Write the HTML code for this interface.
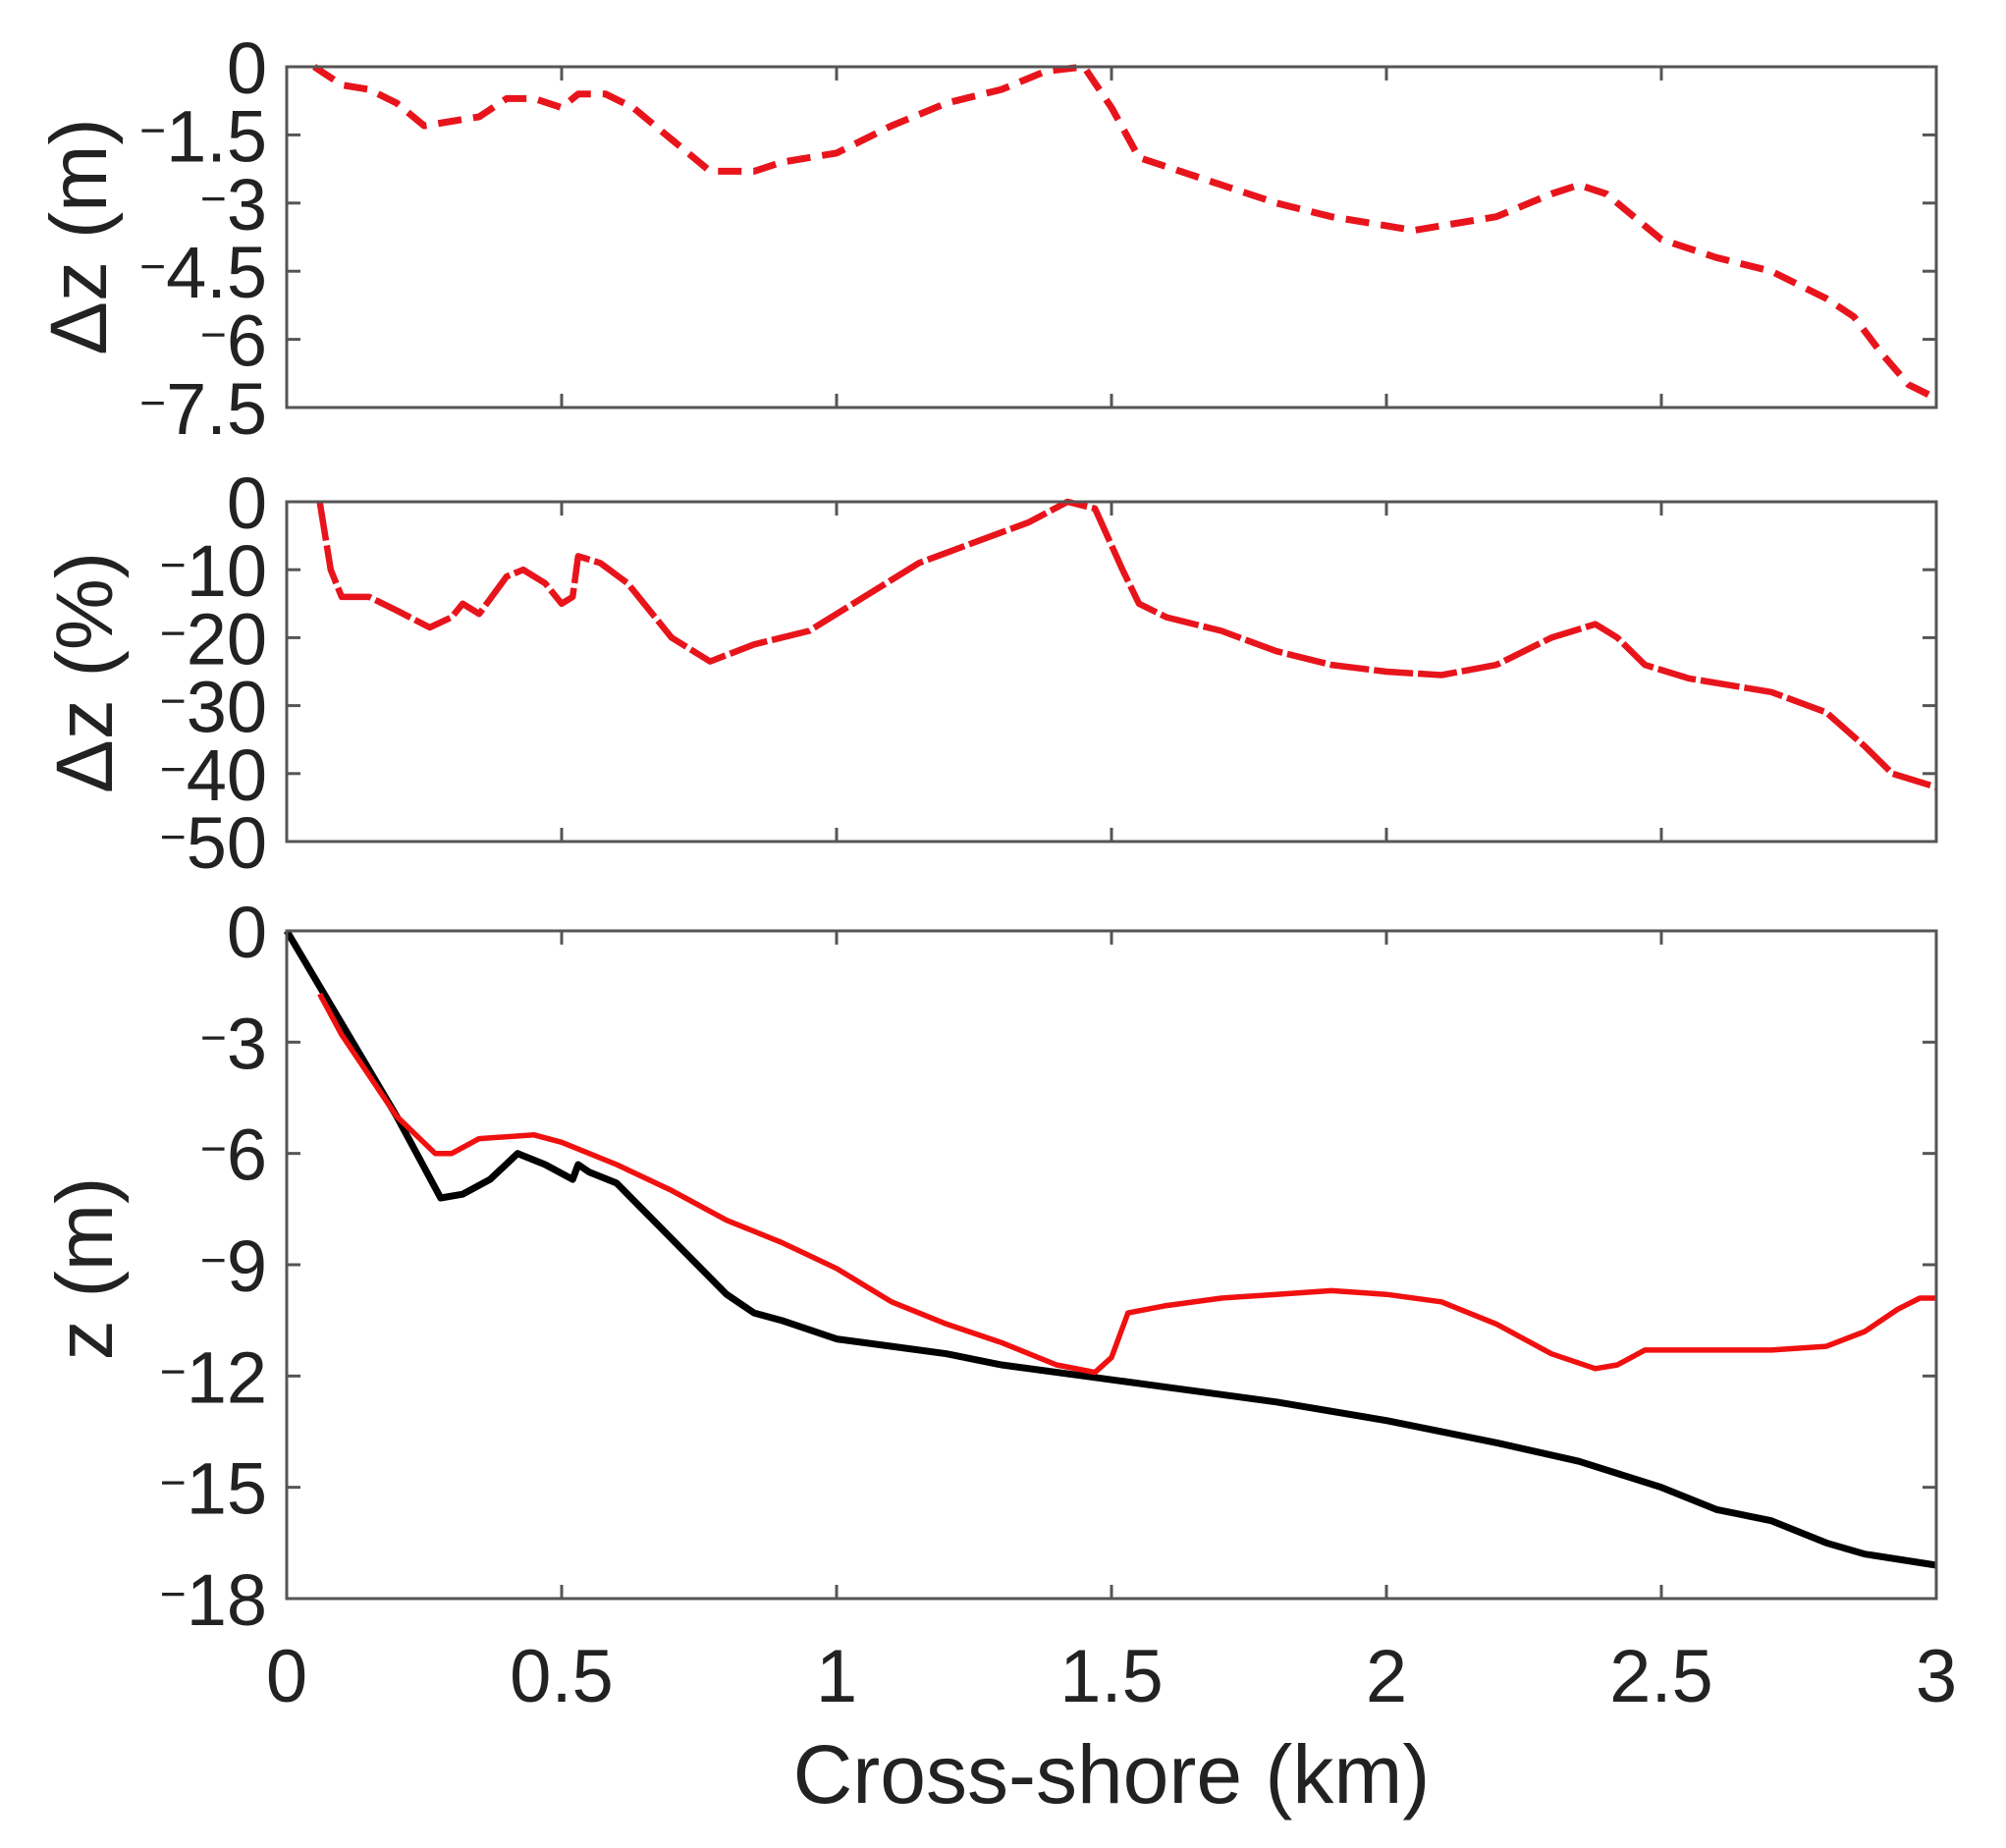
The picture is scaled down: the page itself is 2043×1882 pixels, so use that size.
<!DOCTYPE html>
<html><head><meta charset="utf-8"><style>
html,body{margin:0;padding:0;background:#fff}
svg{display:block}
text{font-family:"Liberation Sans",Arial,sans-serif;fill:#222}
</style></head><body>
<svg id="s" width="2043" height="1882" xmlns="http://www.w3.org/2000/svg"></svg>
<script>
const s=document.getElementById('s');
const X0=292,X1=1972,kx=(X1-X0)/3;
let h='';
function px(x){return X0+x*kx}
function panel(top,bot,ymin,ticks,lab,labY,labX,series){
  const H=bot-top;
  const py=v=>top+(-v)/(-ymin)*H;
  for(const sr of series){
    let d=sr.pts.map((p,i)=>(i?'L':'M')+px(p[0]).toFixed(1)+' '+py(p[1]).toFixed(1)).join(' ');
    h+=`<path d="${d}" fill="none" stroke="${sr.c}" stroke-width="${sr.w}" stroke-linejoin="round" ${sr.dash?'stroke-dasharray="'+sr.dash+'"':''}/>`;
  }
  h+=`<rect x="${X0}" y="${top}" width="${X1-X0}" height="${H}" fill="none" stroke="#555" stroke-width="3"/>`;
  for(const t of [0.5,1,1.5,2,2.5]){const x=px(t);
    h+=`<line x1="${x}" y1="${bot}" x2="${x}" y2="${bot-14}" stroke="#555" stroke-width="3"/><line x1="${x}" y1="${top}" x2="${x}" y2="${top+14}" stroke="#555" stroke-width="3"/>`;}
  for(const t of ticks){const y=py(t);
    h+=`<line x1="${X0}" y1="${y}" x2="${X0+14}" y2="${y}" stroke="#555" stroke-width="3"/><line x1="${X1}" y1="${y}" x2="${X1-14}" y2="${y}" stroke="#555" stroke-width="3"/>`;
    const txt=t==0?'0':`<tspan font-size="46" dy="-16">−</tspan><tspan dy="16">${Math.abs(t)}</tspan>`;
    h+=`<text x="272" y="${y+27}" font-size="74" text-anchor="end">${txt}</text>`;}
  h+=`<text transform="translate(${labX},${labY}) rotate(-90)" font-size="82" text-anchor="middle">${lab}</text>`;
}
const p1=[[0.05,0],[0.1,-0.4],[0.15,-0.5],[0.2,-0.8],[0.25,-1.3],[0.3,-1.2],[0.35,-1.1],[0.4,-0.7],[0.45,-0.7],[0.5,-0.9],[0.53,-0.6],[0.58,-0.6],[0.63,-0.9],[0.7,-1.6],[0.77,-2.3],[0.85,-2.3],[0.9,-2.1],[1.0,-1.9],[1.1,-1.3],[1.2,-0.8],[1.3,-0.5],[1.38,-0.1],[1.45,0],[1.5,-0.9],[1.55,-2.0],[1.6,-2.2],[1.7,-2.6],[1.8,-3.0],[1.9,-3.3],[2.0,-3.5],[2.05,-3.6],[2.1,-3.5],[2.2,-3.3],[2.3,-2.8],[2.35,-2.6],[2.4,-2.8],[2.45,-3.3],[2.5,-3.8],[2.6,-4.2],[2.7,-4.5],[2.8,-5.1],[2.85,-5.5],[2.9,-6.3],[2.95,-7.0],[3.0,-7.3]];
const p2=[[0.06,0],[0.08,-10],[0.1,-14],[0.15,-14],[0.2,-16],[0.26,-18.5],[0.3,-17],[0.32,-15],[0.35,-16.5],[0.4,-11],[0.43,-10],[0.47,-12],[0.5,-15],[0.52,-14],[0.53,-8],[0.57,-9],[0.62,-12],[0.7,-20],[0.77,-23.5],[0.85,-21],[0.95,-19],[1.05,-14],[1.15,-9],[1.25,-6],[1.35,-3],[1.42,0],[1.47,-1],[1.52,-10],[1.55,-15],[1.6,-17],[1.7,-19],[1.8,-22],[1.9,-24],[2.0,-25],[2.1,-25.5],[2.2,-24],[2.3,-20],[2.38,-18],[2.42,-20],[2.47,-24],[2.55,-26],[2.7,-28],[2.8,-31],[2.87,-36],[2.92,-40],[3.0,-42]];
const r3=[[0.06,-1.7],[0.1,-2.8],[0.2,-5],[0.27,-6],[0.3,-6],[0.35,-5.6],[0.45,-5.5],[0.5,-5.7],[0.6,-6.3],[0.7,-7],[0.8,-7.8],[0.9,-8.4],[1.0,-9.1],[1.1,-10],[1.2,-10.6],[1.3,-11.1],[1.4,-11.7],[1.47,-11.9],[1.5,-11.5],[1.53,-10.3],[1.6,-10.1],[1.7,-9.9],[1.8,-9.8],[1.9,-9.7],[2.0,-9.8],[2.1,-10],[2.2,-10.6],[2.3,-11.4],[2.38,-11.8],[2.42,-11.7],[2.47,-11.3],[2.6,-11.3],[2.7,-11.3],[2.8,-11.2],[2.87,-10.8],[2.93,-10.2],[2.97,-9.9],[3.0,-9.9]];
const b3=[[0,0],[0.1,-2.5],[0.2,-5],[0.28,-7.2],[0.32,-7.1],[0.37,-6.7],[0.42,-6.0],[0.47,-6.3],[0.52,-6.7],[0.53,-6.3],[0.55,-6.5],[0.6,-6.8],[0.7,-8.3],[0.8,-9.8],[0.85,-10.3],[0.9,-10.5],[1.0,-11.0],[1.1,-11.2],[1.2,-11.4],[1.3,-11.7],[1.45,-12.0],[1.6,-12.3],[1.8,-12.7],[2.0,-13.2],[2.2,-13.8],[2.35,-14.3],[2.5,-15],[2.6,-15.6],[2.7,-15.9],[2.8,-16.5],[2.87,-16.8],[3.0,-17.1]];
panel(68,415,-7.5,[0,-1.5,-3,-4.5,-6,-7.5],'Δz (m)',241,108,[{pts:p1,c:'#e8141c',w:7,dash:'24 12'}]);
panel(511,857,-50,[0,-10,-20,-30,-40,-50],'Δz (%)',685,114,[{pts:p2,c:'#e8141c',w:6.5,dash:'40 5'}]);
panel(948,1628,-18,[0,-3,-6,-9,-12,-15,-18],'z (m)',1292,114,[{pts:b3,c:'#000',w:7},{pts:r3,c:'#f01010',w:5.5}]);
const xl=[0,0.5,1,1.5,2,2.5,3];
for(const t of xl){h+=`<text x="${px(t)}" y="1733" font-size="76" text-anchor="middle">${t}</text>`;}
h+=`<text x="1132" y="1836" font-size="84" text-anchor="middle">Cross-shore (km)</text>`;
s.innerHTML=h;
</script>
</body></html>
